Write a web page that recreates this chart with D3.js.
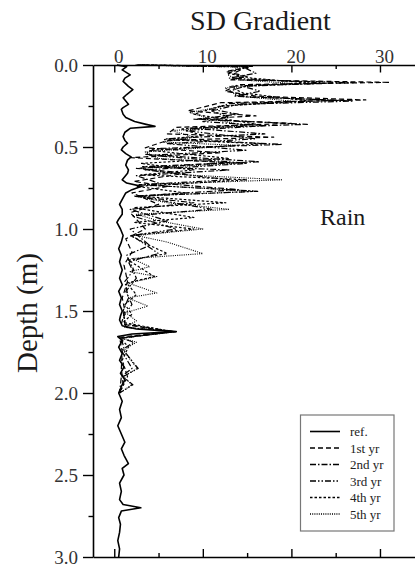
<!DOCTYPE html>
<html>
<head>
<meta charset="utf-8">
<script src="https://cdn.jsdelivr.net/npm/d3@7"></script>
<style>
  html, body { margin: 0; padding: 0; background: #fff; }
  svg { display: block; }
</style>
</head>
<body>
<svg id="chart" width="415" height="569"></svg>
<script>
const FONT = '"Liberation Serif"';

// Depth profiles of SD gradient: [depth (m), gradient]
const refProfile = [[0,0.3],[0.01,1.4],[0.03,0.9],[0.06,1.8],[0.08,1.2],[0.10,1.0],[0.13,1.6],[0.15,2.1],[0.18,1.4],[0.20,1.0],[0.22,1.3],[0.24,1.6],[0.26,1.0],[0.27,0.8],[0.30,1.0],[0.32,1.3],[0.345,2.3],[0.362,3.6],[0.374,4.6],[0.386,1.8],[0.41,1.2],[0.437,1.0],[0.46,1.2],[0.477,1.5],[0.50,1.0],[0.518,0.8],[0.54,1.3],[0.56,1.9],[0.58,1.5],[0.61,1.3],[0.64,1.6],[0.66,1.5],[0.70,0.9],[0.72,1.4],[0.74,3.1],[0.76,2.0],[0.78,1.3],[0.82,0.9],[0.85,0.6],[0.88,0.9],[0.91,0.9],[0.94,0.5],[0.96,0.3],[1.0,0.7],[1.04,1.0],[1.08,0.8],[1.12,0.5],[1.16,0.8],[1.20,0.6],[1.25,0.9],[1.30,0.6],[1.34,0.9],[1.38,0.5],[1.42,0.8],[1.46,0.6],[1.50,0.9],[1.53,0.7],[1.555,0.6],[1.59,0.9],[1.61,2.5],[1.626,7.0],[1.64,2.0],[1.656,0.4],[1.68,0.9],[1.72,0.5],[1.76,0.9],[1.80,0.6],[1.84,1.1],[1.88,0.7],[1.92,1.2],[1.96,0.8],[2.00,0.5],[2.05,0.9],[2.10,0.6],[2.15,0.8],[2.20,0.4],[2.25,0.8],[2.30,1.2],[2.34,0.8],[2.38,1.1],[2.43,1.6],[2.46,0.9],[2.50,1.1],[2.55,0.6],[2.60,0.8],[2.65,0.6],[2.68,1.0],[2.70,3.0],[2.72,0.8],[2.76,0.5],[2.80,0.7],[2.85,0.6],[2.90,0.4],[2.95,0.6],[3.0,0.5]];

const year1 = [[0,2.5],[0.008,15.6],[0.04,12.6],[0.07,15],[0.09,13],[0.106,31.1],[0.12,14],[0.16,12.5],[0.19,16],[0.213,28.4],[0.23,12],[0.28,8.3],[0.31,16],[0.33,9],[0.356,20],[0.38,7],[0.42,6],[0.44,18],[0.46,6],[0.505,3.5],[0.535,12],[0.565,1.9],[0.595,13],[0.63,2.5],[0.66,8],[0.71,2.2],[0.74,6],[0.78,2],[0.85,5],[0.9,1.8],[1.0,3.5],[1.06,1.3],[1.14,2],[1.22,1.1],[1.32,1.5],[1.42,0.9],[1.5,1.2],[1.58,0.8],[1.626,6.5],[1.66,0.6],[1.75,0.9],[1.85,0.8],[1.95,1.0],[2.0,0.6]];

const year2 = [[0,2.8],[0.01,15],[0.05,13.5],[0.09,14.5],[0.108,27],[0.125,15],[0.16,13],[0.195,15],[0.215,25.5],[0.235,13],[0.27,11],[0.30,14],[0.33,9.5],[0.362,21.8],[0.385,8.5],[0.42,17],[0.45,5.9],[0.484,19],[0.51,4.5],[0.545,3.5],[0.59,16.4],[0.62,3.2],[0.64,13],[0.675,2.5],[0.72,5],[0.76,14],[0.80,2.2],[0.84,9],[0.88,1.8],[0.95,6],[1.0,1.8],[1.1,4],[1.16,1.4],[1.25,2.2],[1.32,1.2],[1.42,1.6],[1.5,1.0],[1.58,1.2],[1.626,6.8],[1.665,0.7],[1.69,2.2],[1.74,0.8],[1.85,2.0],[1.9,0.8],[2.0,0.6]];

const year3 = [[0,3],[0.012,14.5],[0.05,16],[0.08,13],[0.11,24],[0.13,14.5],[0.16,16.5],[0.19,13.5],[0.22,27],[0.24,14],[0.28,11],[0.32,13],[0.345,10],[0.37,17],[0.40,8],[0.45,16],[0.48,6],[0.52,15],[0.55,4],[0.60,15],[0.64,3.5],[0.70,13],[0.73,2.8],[0.77,16.2],[0.80,2.5],[0.88,11],[0.92,2],[1.0,7],[1.04,2],[1.15,5],[1.2,1.6],[1.3,2.5],[1.38,1.3],[1.46,2],[1.53,1.1],[1.6,1.3],[1.626,6.9],[1.665,0.8],[1.75,1.2],[1.85,2.7],[1.9,1.0],[1.95,2.1],[2.0,0.6]];

const year4 = [[0,2.6],[0.01,15],[0.05,12.8],[0.08,15.5],[0.11,22],[0.13,13],[0.17,14.5],[0.22,22],[0.25,12],[0.30,9],[0.36,16],[0.39,7.5],[0.43,10],[0.455,5.5],[0.48,17],[0.52,4],[0.57,13],[0.60,3],[0.64,9],[0.67,3],[0.70,15],[0.74,2.5],[0.78,8],[0.80,3],[0.84,12.6],[0.87,2.2],[0.93,9],[0.96,2.2],[1.0,9],[1.04,1.8],[1.1,4],[1.15,6],[1.19,1.6],[1.29,4.5],[1.33,1.4],[1.4,2.5],[1.46,1.2],[1.52,2],[1.57,1.0],[1.626,6.6],[1.665,0.7],[1.72,1.6],[1.8,0.9],[1.9,1.5],[2.0,0.6]];

const year5 = [[0,2.4],[0.012,14],[0.06,12.8],[0.09,14],[0.112,20],[0.14,12.5],[0.19,14],[0.22,20],[0.25,12.5],[0.29,8.5],[0.33,11],[0.37,15],[0.40,6.5],[0.44,9],[0.47,5.5],[0.49,14],[0.53,3.5],[0.57,5],[0.60,14],[0.63,2.8],[0.67,8],[0.70,19],[0.73,3],[0.77,16],[0.80,2.5],[0.84,6],[0.88,13],[0.91,2.5],[0.95,5],[1.0,10],[1.04,2.5],[1.08,6],[1.15,10],[1.18,2],[1.23,4],[1.26,1.8],[1.29,4.8],[1.33,1.6],[1.39,4.8],[1.42,1.5],[1.47,3.8],[1.51,1.3],[1.56,2.5],[1.6,1.2],[1.626,7.0],[1.665,0.9],[1.69,2.5],[1.74,1.0],[1.85,2.6],[1.9,1.0],[1.95,2.0],[2.0,0.6]];

const seriesNames = ["ref.", "1st yr", "2nd yr", "3rd yr", "4th yr", "5th yr"];
const seriesData = [refProfile, year1, year2, year3, year4, year5];
const dashes = [null, "5,3", "6,2,1.5,2", "6,2,1.5,2,1.5,2", "2.5,2", "1,1.2"];
const widths = [1.6, 1.2, 1.2, 1.2, 1.2, 1.1];

const xMajor = [0, 10, 20, 30];
const xMinor = [5, 15, 25];
const yMajor = [0, 0.5, 1.0, 1.5, 2.0, 2.5, 3.0];
const yMinor = [0.25, 0.75, 1.25, 1.75, 2.25, 2.75];

const svg = d3.select("#chart");
const x = d3.scaleLinear().domain([-2.4, 34]).range([93, 415.4]);
const y = d3.scaleLinear().domain([0, 3]).range([65, 557]);

const line = d3.line().x(d => x(d[1])).y(d => y(d[0]));

// profiles (deepest-year first so the reference sits on top)
const plot = svg.append("g");
for (let i = seriesData.length - 1; i >= 0; i--) {
  plot.append("path")
    .datum(seriesData[i])
    .attr("d", line)
    .attr("fill", "none")
    .attr("stroke", "#000")
    .attr("stroke-width", widths[i])
    .attr("stroke-linejoin", "round")
    .attr("stroke-dasharray", dashes[i]);
}

function styleAxis(g) {
  g.selectAll("path.domain").attr("stroke", "#000").attr("stroke-width", 1.6);
  g.selectAll(".tick line").attr("stroke", "#000").attr("stroke-width", 1.4);
  g.selectAll(".tick text")
    .attr("fill", "#333")
    .style("font-family", FONT)
    .style("font-size", "19px");
}

// top axis with labels, ticks pointing into the plot
svg.append("g").attr("transform", `translate(0,${y(0)})`)
  .call(d3.axisTop(x).tickValues(xMajor).tickSize(-7.5).tickSizeOuter(0).tickPadding(2.5))
  .call(styleAxis)
  .call(g => g.selectAll(".tick text").attr("dx", 4));
svg.append("g").attr("transform", `translate(0,${y(0)})`)
  .call(d3.axisTop(x).tickValues(xMinor).tickSize(-4).tickFormat(""))
  .call(styleAxis).call(g => g.select("path.domain").remove());

// bottom axis, ticks only
svg.append("g").attr("transform", `translate(0,${y(3)})`)
  .call(d3.axisBottom(x).tickValues(xMajor).tickSize(-8).tickSizeOuter(0).tickFormat(""))
  .call(styleAxis);
svg.append("g").attr("transform", `translate(0,${y(3)})`)
  .call(d3.axisBottom(x).tickValues(xMinor).tickSize(-4).tickFormat(""))
  .call(styleAxis).call(g => g.select("path.domain").remove());

// left depth axis
svg.append("g").attr("transform", `translate(${x.range()[0]},0)`)
  .call(d3.axisLeft(y).tickValues(yMajor).tickSize(10).tickSizeOuter(0).tickPadding(5)
    .tickFormat(d3.format(".1f")))
  .call(styleAxis);
svg.append("g").attr("transform", `translate(${x.range()[0]},0)`)
  .call(d3.axisLeft(y).tickValues(yMinor).tickSize(4.5).tickFormat(""))
  .call(styleAxis).call(g => g.select("path.domain").remove());

// titles
svg.append("text")
  .attr("x", 260.5).attr("y", 30)
  .attr("text-anchor", "middle")
  .attr("fill", "#1a1a1a")
  .style("font-family", FONT)
  .style("font-size", "28px")
  .text("SD Gradient");

svg.append("text")
  .attr("transform", "translate(37,313) rotate(-90)")
  .attr("text-anchor", "middle")
  .attr("fill", "#1a1a1a")
  .style("font-family", FONT)
  .style("font-size", "29px")
  .text("Depth (m)");

svg.append("text")
  .attr("x", 320).attr("y", 225)
  .attr("fill", "#1a1a1a")
  .style("font-family", FONT)
  .style("font-size", "24px")
  .text("Rain");

// legend
const legend = svg.append("g");
legend.append("rect")
  .attr("x", 300.5).attr("y", 415)
  .attr("width", 93.5).attr("height", 116)
  .attr("fill", "#fff")
  .attr("stroke", "#777")
  .attr("stroke-width", 1.2);

seriesNames.forEach((name, i) => {
  const cy = 431.5 + i * 16.5;
  legend.append("line")
    .attr("x1", 310).attr("x2", 340)
    .attr("y1", cy).attr("y2", cy)
    .attr("stroke", "#000")
    .attr("stroke-width", widths[i] + (i === 0 ? 0 : 0.3))
    .attr("stroke-dasharray", dashes[i]);
  legend.append("text")
    .attr("x", 350).attr("y", cy + 4.5)
    .attr("fill", "#222")
    .style("font-family", FONT)
    .style("font-size", "13px")
    .text(name);
});
</script>
</body>
</html>
